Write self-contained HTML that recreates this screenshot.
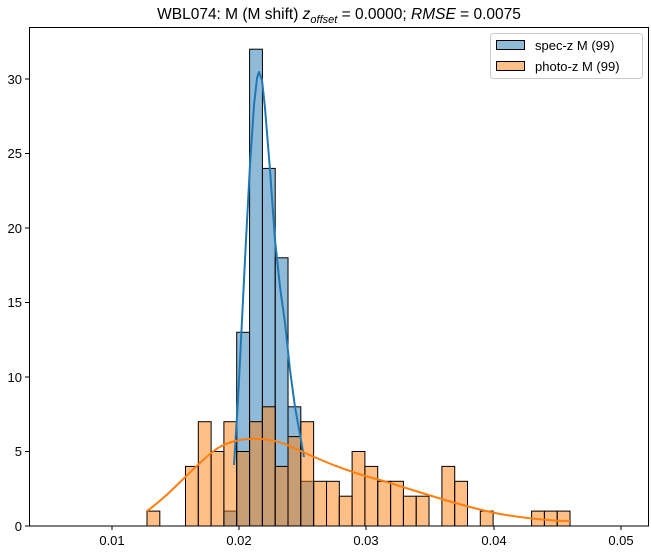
<!DOCTYPE html>
<html><head><meta charset="utf-8"><style>html,body{margin:0;padding:0;background:#fff}svg{display:block}</style></head>
<body>
<svg width="651" height="552" xmlns="http://www.w3.org/2000/svg" font-family="Liberation Sans, DejaVu Sans, sans-serif">
<rect width="651" height="552" fill="#fff"/>
<g stroke="#000" stroke-width="1">
<g fill="rgba(31,119,180,0.5)">
<rect x="223.9" y="511.1" width="12.82" height="14.9"/>
<rect x="236.7" y="332.3" width="12.82" height="193.7"/>
<rect x="249.6" y="49.2" width="12.82" height="476.8"/>
<rect x="262.4" y="168.4" width="12.82" height="357.6"/>
<rect x="275.2" y="257.8" width="12.82" height="268.2"/>
<rect x="288.0" y="406.8" width="12.82" height="119.2"/>
<rect x="300.8" y="481.3" width="12.82" height="44.7"/>
</g>
<g fill="rgba(255,127,14,0.5)">
<rect x="147" y="511.1" width="12.82" height="14.9"/>
<rect x="185.5" y="466.4" width="12.82" height="59.6"/>
<rect x="198.3" y="421.7" width="12.82" height="104.3"/>
<rect x="211.1" y="451.5" width="12.82" height="74.5"/>
<rect x="223.9" y="421.7" width="12.82" height="104.3"/>
<rect x="236.7" y="451.5" width="12.82" height="74.5"/>
<rect x="249.6" y="421.7" width="12.82" height="104.3"/>
<rect x="262.4" y="406.8" width="12.82" height="119.2"/>
<rect x="275.2" y="466.4" width="12.82" height="59.6"/>
<rect x="288.0" y="436.6" width="12.82" height="89.4"/>
<rect x="300.8" y="421.7" width="12.82" height="104.3"/>
<rect x="313.7" y="481.3" width="12.82" height="44.7"/>
<rect x="326.5" y="481.3" width="12.82" height="44.7"/>
<rect x="339.3" y="496.2" width="12.82" height="29.8"/>
<rect x="352.1" y="451.5" width="12.82" height="74.5"/>
<rect x="364.9" y="466.4" width="12.82" height="59.6"/>
<rect x="377.8" y="481.3" width="12.82" height="44.7"/>
<rect x="390.6" y="481.3" width="12.82" height="44.7"/>
<rect x="403.4" y="496.2" width="12.82" height="29.8"/>
<rect x="416.2" y="496.2" width="12.82" height="29.8"/>
<rect x="441.9" y="466.4" width="12.82" height="59.6"/>
<rect x="454.7" y="481.3" width="12.82" height="44.7"/>
<rect x="480.3" y="511.1" width="12.82" height="14.9"/>
<rect x="531.6" y="511.1" width="12.82" height="14.9"/>
<rect x="544.4" y="511.1" width="12.82" height="14.9"/>
<rect x="557.2" y="511.1" width="12.82" height="14.9"/>
</g>
</g>
<polyline fill="none" stroke="#1f77b4" stroke-width="2" stroke-linejoin="round" points="234,465 238,400 242,320 246,240 250,165 254,105 257,78 259,72 262,80 265,108 270,170 275,240 280,287 285,323 290,370 295,407 304,457"/>
<path fill="none" stroke="#ff7f0e" stroke-width="2" d="M147,511 C170,495 195,465 215,450 C232,438 260,435 285,444 C310,455 340,470 380,480 C420,492 460,506 500,514 C530,519 550,521 570,521"/>
<rect x="29.5" y="27.5" width="619" height="498.5" fill="none" stroke="#000" stroke-width="1"/>
<g stroke="#000" stroke-width="1">
<line x1="112" y1="526" x2="112" y2="530"/><line x1="239" y1="526" x2="239" y2="530"/><line x1="366" y1="526" x2="366" y2="530"/><line x1="494" y1="526" x2="494" y2="530"/><line x1="621" y1="526" x2="621" y2="530"/>
<line x1="25" y1="526" x2="29.5" y2="526"/><line x1="25" y1="451.5" x2="29.5" y2="451.5"/><line x1="25" y1="377" x2="29.5" y2="377"/><line x1="25" y1="302.5" x2="29.5" y2="302.5"/><line x1="25" y1="228" x2="29.5" y2="228"/><line x1="25" y1="153.5" x2="29.5" y2="153.5"/><line x1="25" y1="79" x2="29.5" y2="79"/>
</g>
<g font-size="13" fill="#000" text-anchor="middle">
<text x="112" y="545">0.01</text><text x="239" y="545">0.02</text><text x="366" y="545">0.03</text><text x="494" y="545">0.04</text><text x="621" y="545">0.05</text>
</g>
<g font-size="13" fill="#000" text-anchor="end">
<text x="22" y="531">0</text><text x="22" y="456">5</text><text x="22" y="382">10</text><text x="22" y="307">15</text><text x="22" y="233">20</text><text x="22" y="158">25</text><text x="22" y="84">30</text>
</g>
<text x="339" y="19" font-size="15.5" text-anchor="middle" fill="#000">WBL074: M (M shift) <tspan font-style="italic">z</tspan><tspan font-style="italic" font-size="11" dy="4">offset</tspan><tspan dy="-4"> = 0.0000; </tspan><tspan font-style="italic">RMSE</tspan> = 0.0075</text>
<rect x="490.5" y="33.5" width="152" height="45" rx="3" fill="#fff" fill-opacity="0.8" stroke="#ccc"/>
<rect x="496.5" y="40.5" width="28" height="9" fill="rgba(31,119,180,0.5)" stroke="#000"/>
<rect x="496.5" y="61.5" width="28" height="9" fill="rgba(255,127,14,0.5)" stroke="#000"/>
<text x="535" y="50" font-size="13" fill="#000">spec-z M (99)</text>
<text x="535" y="71" font-size="13" fill="#000">photo-z M (99)</text>
</svg>
</body></html>
